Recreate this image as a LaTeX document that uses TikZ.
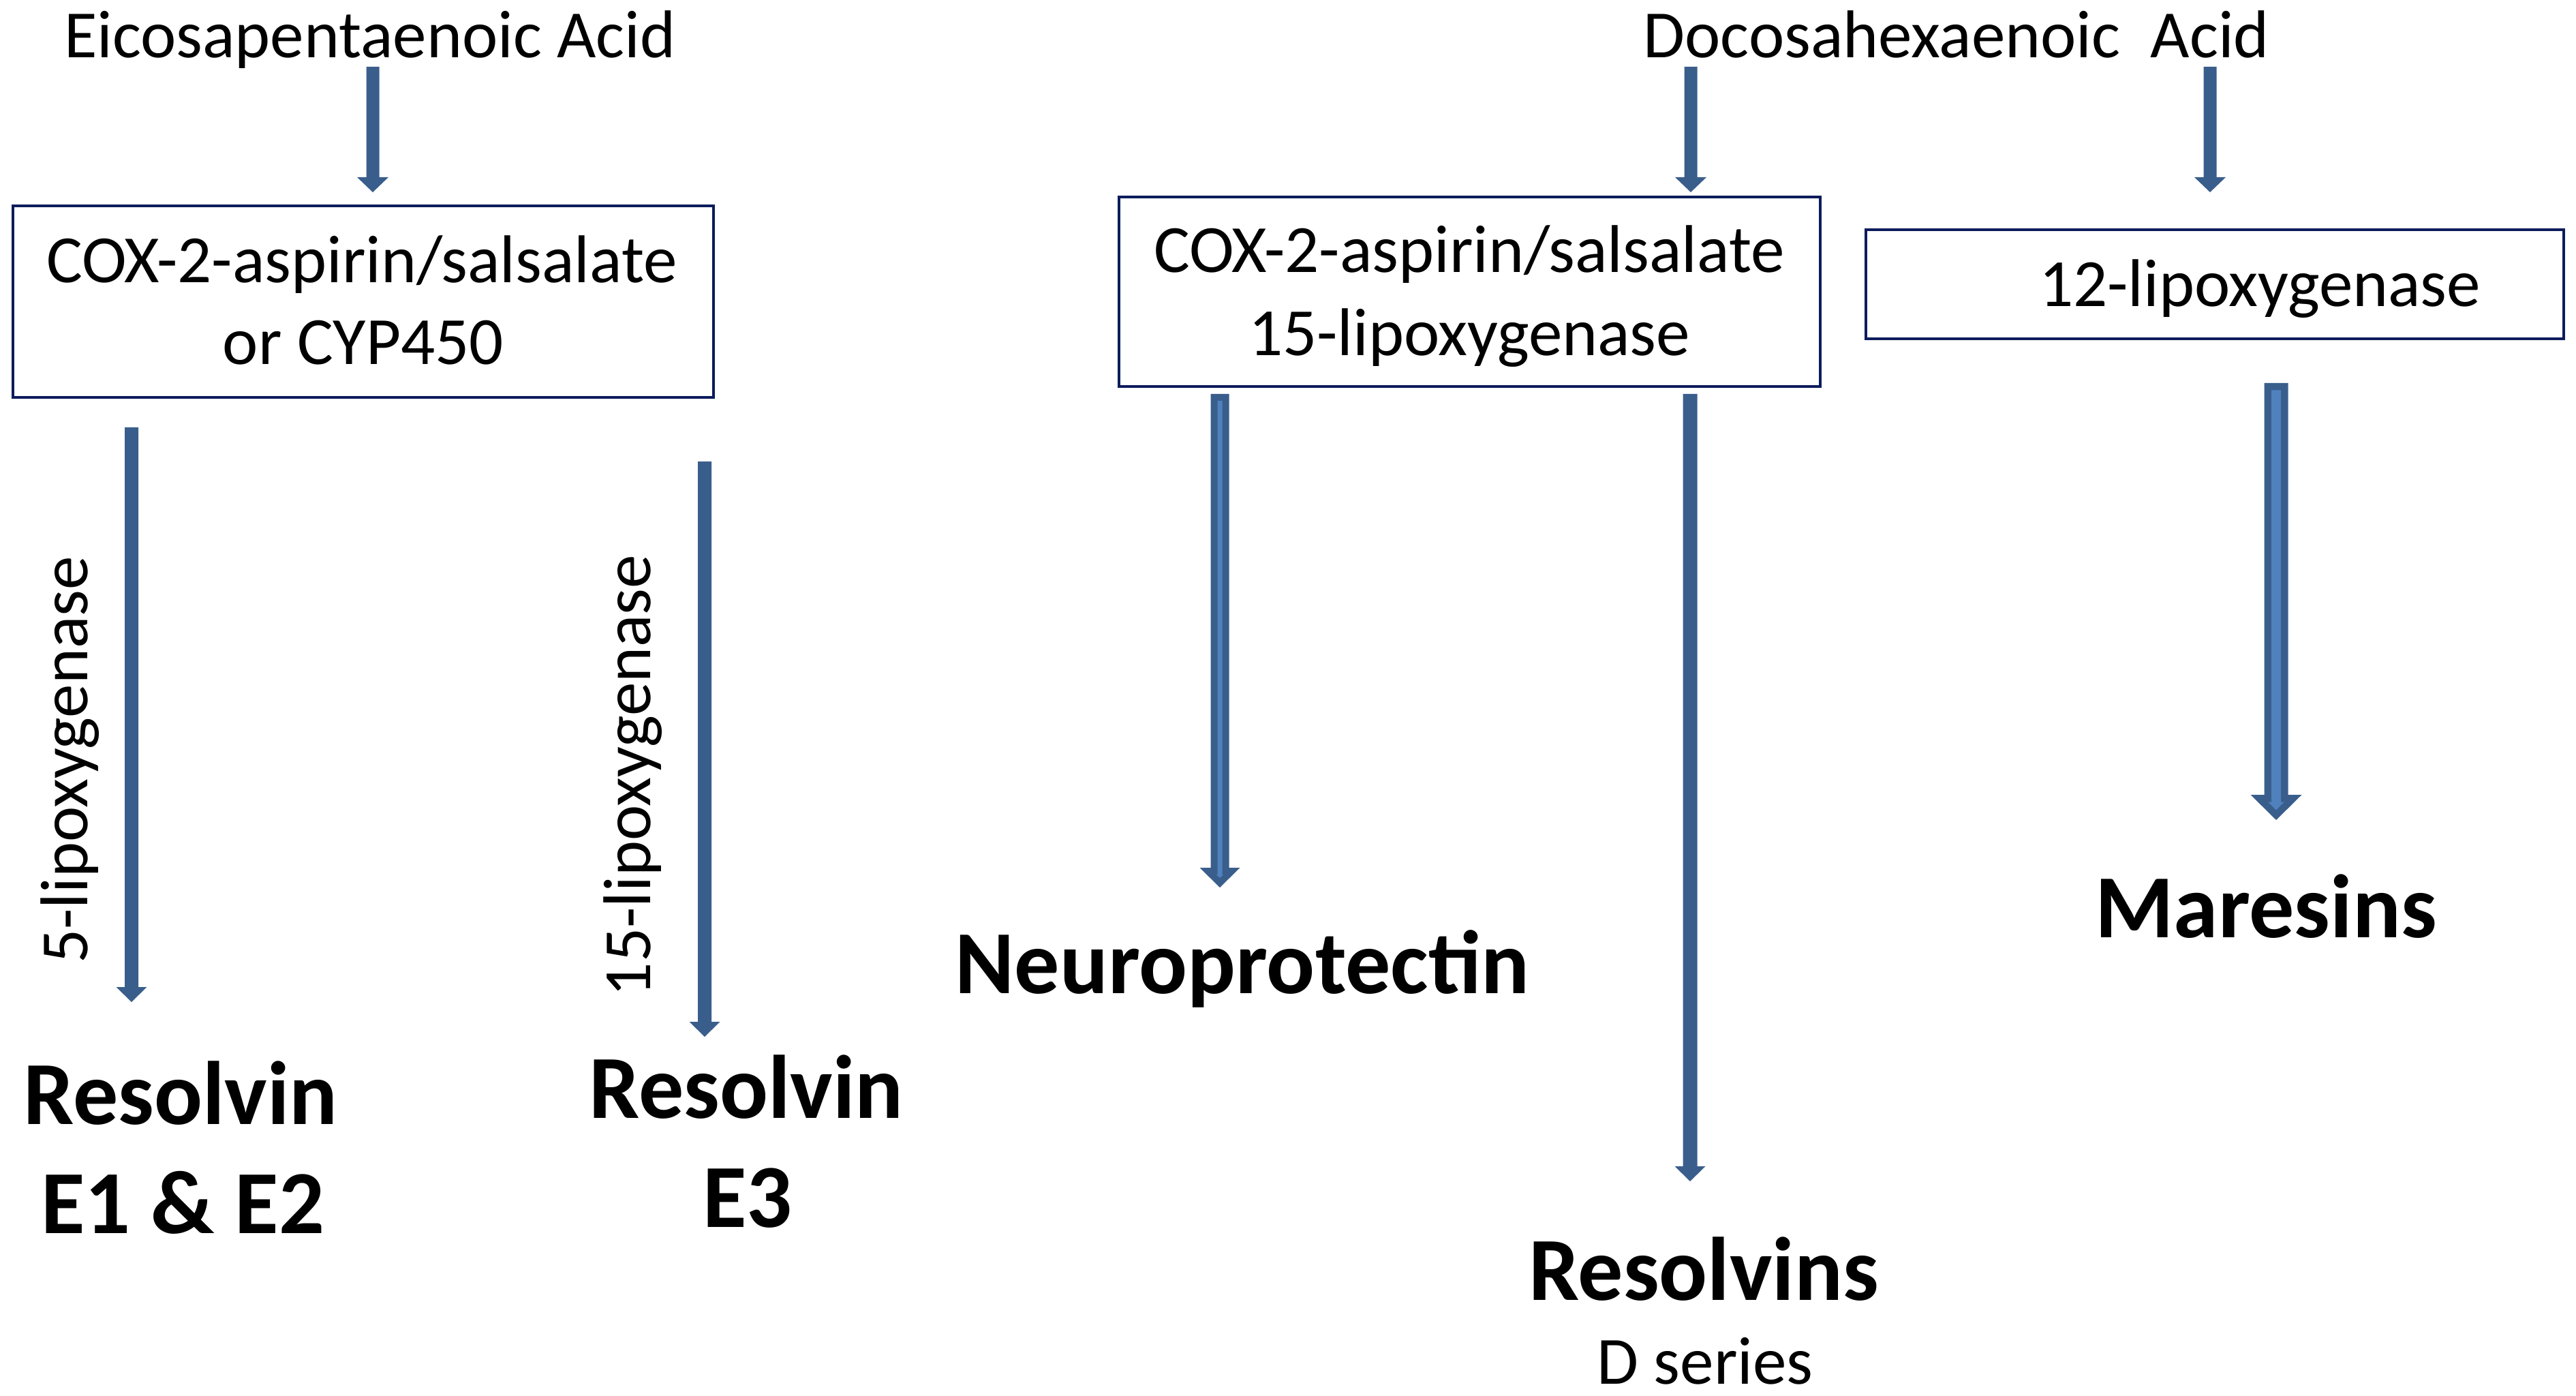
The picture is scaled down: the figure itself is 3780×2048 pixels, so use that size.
\documentclass[tikz,border=0pt]{standalone}
\usepackage{fontspec}
\setmainfont{Carlito}
\usetikzlibrary{calc}
\definecolor{arrowdark}{RGB}{58,94,140}
\definecolor{arrowlight}{RGB}{79,129,189}
\definecolor{boxline}{RGB}{12,28,92}
\tikzset{
 box/.style={draw=boxline, line width=0.45mm, inner sep=0pt, outer sep=0pt},
 txt/.style={inner sep=0pt, outer sep=0pt, font=\fontsize{28.2}{33}\selectfont, text=black},
 btxt/.style={inner sep=0pt, outer sep=0pt, font=\fontsize{37.6}{44}\selectfont\bfseries, text=black},
}
% block arrow: [colour]{start}{tip}{shaft half width}{head half width}{head length}
\newcommand\barrow[6][arrowdark]{%
 \fill[#1] ($(#2)+(-#4,0)$) -- ($(#2)+(#4,0)$) -- ($(#3)+(#4,-#6)$) -- ($(#3)+(#5,-#6)$) -- (#3)
   -- ($(#3)+(-#5,-#6)$) -- ($(#3)+(-#4,-#6)$) -- cycle;}
\begin{document}
\begin{tikzpicture}[x=0.1mm,y=-0.1mm]
\useasboundingbox (0,0) rectangle (3780,2048);
\fill[white] (0,0) rectangle (3780,2048);

% titles
\node[txt,anchor=base] (epa) at (543,85) {Eicosapentaenoic Acid};
\node[txt,anchor=base] (dha) at (2871,85) {Docosahexaenoic~ Acid};

% boxes
\node[box,minimum width=102.8mm,minimum height=28.1mm] (b1) at (533,442.5) {};
\node[txt,anchor=base] (b1a) at (531,415) {COX-2-aspirin/salsalate};
\node[txt,anchor=base] (b1b) at (533,535) {or CYP450};

\node[box,minimum width=102.9mm,minimum height=27.8mm] (b2) at (2156.5,428) {};
\node[txt,anchor=base] (b2a) at (2156,400) {COX-2-aspirin/salsalate};
\node[txt,anchor=base] (b2b) at (2156,521) {15-lipoxygenase};

\node[box,minimum width=102.4mm,minimum height=16mm] (b3) at (3250,417) {};
\node[txt,anchor=base] (b3a) at (3316,450) {12-lipoxygenase};

% rotated enzyme labels
\node[txt,anchor=base,rotate=90] (l5) at (128,1115) {5-lipoxygenase};
\node[txt,anchor=base,rotate=90] (l15) at (954,1138) {15-lipoxygenase};

% products
\node[btxt,anchor=base] (re1) at (265,1649) {Resolvin};
\node[btxt,anchor=base] (re2) at (268,1809) {E1 \& E2};
\node[btxt,anchor=base] (re3a) at (1095,1640) {Resolvin};
\node[btxt,anchor=base] (re3b) at (1097,1800) {E3};
\node[btxt,anchor=base] (np) at (1823,1457) {Neuroprotectin};
\node[btxt,anchor=base] (mr) at (3325,1375) {Maresins};
\node[btxt,anchor=base] (rd) at (2500,1907) {Resolvins};
\node[txt,anchor=base] (rds) at (2502,2030) {D series};

% arrow end points
\coordinate (epaA) at (547,98);   \coordinate (epaB) at (547,282);
\coordinate (l5A) at (193,627);   \coordinate (l5B) at (193,1470);
\coordinate (l15A) at (1034,677); \coordinate (l15B) at (1034,1521);
\coordinate (dhaA) at (2481,98);  \coordinate (dhaB) at (2481,282);
\coordinate (dhaC) at (3243,98);  \coordinate (dhaD) at (3243,282);
\coordinate (npA) at (1790,578);  \coordinate (npB) at (1790,1302);
\coordinate (npAi) at (1790,588); \coordinate (npBi) at (1790,1288);
\coordinate (rdA) at (2480,578);  \coordinate (rdB) at (2480,1733);
\coordinate (mrA) at (3340,562);  \coordinate (mrB) at (3340,1203);
\coordinate (mrAi) at (3340,572.5); \coordinate (mrBi) at (3340,1188.3);

% simple arrows
\barrow{epaA}{epaB}{9.5}{23}{22}
\barrow{l5A}{l5B}{10}{22.5}{22}
\barrow{l15A}{l15B}{10}{22.5}{22}
\barrow{dhaA}{dhaB}{9.5}{23}{22}
\barrow{dhaC}{dhaD}{9.5}{23}{22}
\barrow{rdA}{rdB}{10.5}{22.5}{22}

% outlined arrows
\barrow{npA}{npB}{13.5}{29.5}{29}
\barrow[arrowlight]{npAi}{npBi}{3.5}{5.1}{5}
\barrow{mrA}{mrB}{17.5}{37.5}{37}
\barrow[arrowlight]{mrAi}{mrBi}{7}{11.9}{11.8}
\end{tikzpicture}
\end{document}
